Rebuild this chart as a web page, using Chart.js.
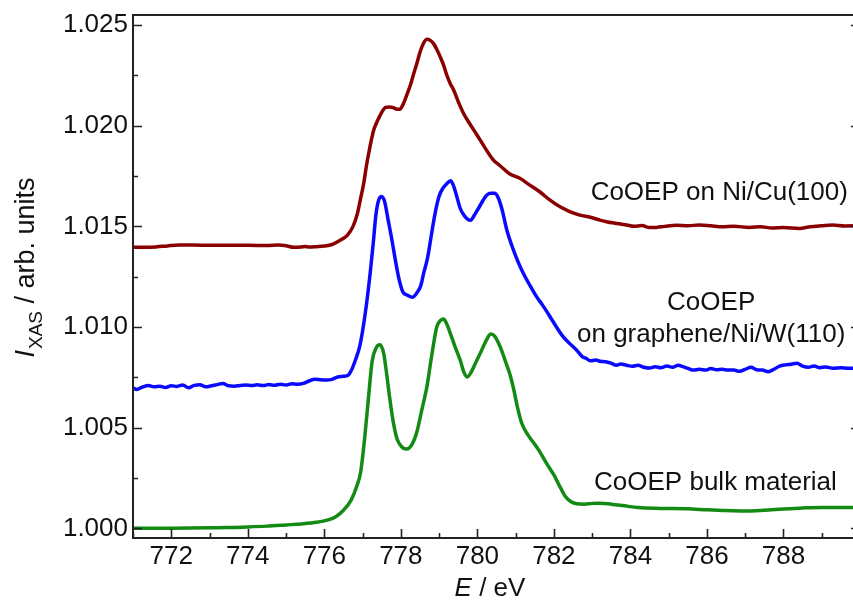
<!DOCTYPE html>
<html>
<head>
<meta charset="utf-8">
<script src="https://cdn.jsdelivr.net/npm/chart.js@4.4.1/dist/chart.umd.min.js"></script>
<style>
html,body{margin:0;padding:0;overflow:hidden;background:#fff;}
#wrap{position:relative;width:862px;height:600px;}
</style>
</head>
<body>
<div id="wrap"><canvas id="c"></canvas></div>
<script>
// ---- data ----
const bulkE = [771.0,771.5,772.0,772.5,773.0,773.5,774.0,774.5,775.0,775.4,775.8,776.1,776.3,776.5,776.7,776.85,776.95,777.05,777.15,777.25,777.35,777.45,777.55,777.62,777.7,777.8,777.9,778.0,778.15,778.3,778.42,778.55,778.68,778.8,778.94,779.05,779.12,779.2,779.3,779.42,779.55,779.65,779.73,779.82,779.95,780.1,780.25,780.35,780.45,780.6,780.75,780.85,780.95,781.05,781.16,781.3,781.45,781.6,781.8,782.0,782.15,782.3,782.45,782.6,782.8,783.0,783.2,783.5,783.8,784.2,784.8,785.5,786.0,786.5,787.0,787.5,788.0,788.5,789.0,789.5,790.0];
const bulkI = [1.00000,1.00000,1.00001,1.00002,1.00003,1.00004,1.00007,1.00011,1.00017,1.00022,1.00030,1.00042,1.00058,1.00090,1.00140,1.00210,1.00280,1.00440,1.00640,1.00830,1.00895,1.00912,1.00870,1.00780,1.00660,1.00530,1.00445,1.00410,1.00394,1.00420,1.00480,1.00590,1.00703,1.00850,1.01001,1.01035,1.01040,1.01015,1.00965,1.00900,1.00836,1.00775,1.00752,1.00770,1.00820,1.00880,1.00940,1.00965,1.00955,1.00900,1.00820,1.00765,1.00690,1.00600,1.00522,1.00470,1.00430,1.00390,1.00325,1.00265,1.00210,1.00158,1.00132,1.00122,1.00120,1.00124,1.00125,1.00120,1.00113,1.00103,1.00099,1.00097,1.00092,1.00088,1.00086,1.00090,1.00096,1.00101,1.00104,1.00104,1.00104];

const grapheneE = [771.0,771.1,771.25,771.4,771.55,771.7,771.85,772.0,772.15,772.3,772.45,772.6,772.75,772.9,773.05,773.2,773.35,773.5,773.65,773.8,773.95,774.1,774.25,774.4,774.55,774.7,774.85,775.0,775.15,775.3,775.45,775.6,775.75,775.9,776.05,776.2,776.35,776.5,776.62,776.72,776.82,776.92,777.0,777.1,777.2,777.28,777.35,777.42,777.5,777.58,777.66,777.75,777.85,777.95,778.05,778.15,778.3,778.42,778.52,778.6,778.7,778.8,778.9,779.0,779.1,779.2,779.3,779.38,779.46,779.55,779.65,779.75,779.82,779.92,780.03,780.15,780.25,780.35,780.45,780.55,780.65,780.77,780.9,781.05,781.2,781.35,781.55,781.7,781.9,782.05,782.24,782.4,782.59,782.75,782.85,782.95,783.1,783.2,783.35,783.5,783.63,783.75,783.9,784.05,784.2,784.35,784.5,784.65,784.8,784.95,785.1,785.25,785.37,785.5,785.65,785.8,785.98,786.1,786.25,786.4,786.55,786.7,786.85,787.0,787.15,787.3,787.45,787.6,787.75,787.9,788.05,788.2,788.35,788.5,788.65,788.8,788.95,789.1,789.3,789.5,789.7,790.0];
const grapheneI = [1.00698,1.00690,1.00702,1.00710,1.00703,1.00706,1.00700,1.00708,1.00705,1.00712,1.00698,1.00710,1.00713,1.00703,1.00708,1.00714,1.00720,1.00708,1.00706,1.00710,1.00712,1.00709,1.00713,1.00709,1.00714,1.00711,1.00716,1.00712,1.00718,1.00716,1.00720,1.00732,1.00740,1.00738,1.00737,1.00740,1.00752,1.00755,1.00760,1.00790,1.00840,1.00900,1.00980,1.01110,1.01270,1.01420,1.01560,1.01630,1.01648,1.01620,1.01540,1.01450,1.01340,1.01240,1.01175,1.01160,1.01148,1.01170,1.01205,1.01270,1.01345,1.01460,1.01570,1.01650,1.01690,1.01712,1.01727,1.01700,1.01650,1.01590,1.01555,1.01535,1.01530,1.01555,1.01590,1.01630,1.01656,1.01664,1.01664,1.01640,1.01580,1.01482,1.01405,1.01330,1.01267,1.01215,1.01150,1.01110,1.01051,1.01005,1.00952,1.00920,1.00886,1.00852,1.00844,1.00832,1.00836,1.00830,1.00828,1.00820,1.00810,1.00816,1.00810,1.00805,1.00810,1.00800,1.00796,1.00803,1.00798,1.00806,1.00800,1.00810,1.00803,1.00795,1.00786,1.00790,1.00786,1.00794,1.00788,1.00790,1.00786,1.00786,1.00780,1.00790,1.00800,1.00788,1.00786,1.00778,1.00790,1.00806,1.00812,1.00815,1.00820,1.00806,1.00800,1.00806,1.00798,1.00802,1.00795,1.00798,1.00795,1.00796];

const niCuE = [771.0,771.3,771.6,771.9,772.2,772.6,773.0,773.5,774.0,774.5,774.8,775.0,775.2,775.4,775.5,775.6,775.8,776.0,776.2,776.4,776.6,776.75,776.86,776.95,777.03,777.1,777.16,777.23,777.29,777.36,777.42,777.5,777.6,777.7,777.8,777.9,777.97,778.07,778.15,778.25,778.33,778.42,778.5,778.58,778.68,778.77,778.85,778.95,779.03,779.12,779.2,779.29,779.38,779.5,779.64,779.8,779.99,780.2,780.42,780.6,780.85,781.11,781.37,781.63,781.9,782.16,782.4,782.68,782.95,783.2,783.4,783.6,783.9,784.1,784.3,784.5,784.68,784.9,785.2,785.5,785.8,786.1,786.4,786.7,787.11,787.4,787.7,788.0,788.41,788.7,789.0,789.28,789.6,790.0];
const niCuI = [1.01396,1.01396,1.01398,1.01403,1.01407,1.01407,1.01406,1.01406,1.01406,1.01405,1.01407,1.01404,1.01396,1.01398,1.01400,1.01397,1.01399,1.01402,1.01410,1.01430,1.01455,1.01500,1.01560,1.01640,1.01714,1.01800,1.01863,1.01930,1.01978,1.02012,1.02037,1.02066,1.02091,1.02093,1.02090,1.02082,1.02082,1.02111,1.02150,1.02202,1.02255,1.02310,1.02365,1.02405,1.02429,1.02424,1.02409,1.02375,1.02342,1.02300,1.02252,1.02210,1.02177,1.02120,1.02061,1.02010,1.01954,1.01890,1.01829,1.01800,1.01760,1.01739,1.01705,1.01672,1.01630,1.01597,1.01575,1.01556,1.01545,1.01531,1.01522,1.01516,1.01507,1.01500,1.01504,1.01494,1.01495,1.01500,1.01505,1.01503,1.01507,1.01503,1.01498,1.01500,1.01495,1.01498,1.01492,1.01494,1.01490,1.01498,1.01503,1.01507,1.01502,1.01503];

const xTicks = [772,774,776,778,780,782,784,786,788];
const xMinorTicks = [771,773,775,777,779,781,783,785,787,789];
const yTicks = [1.000,1.005,1.010,1.015,1.020,1.025];
const yMinorTicks = [1.0025,1.0075,1.0125,1.0175,1.0225];

const seriesLabels = ['CoOEP on Ni/Cu(100)', 'CoOEP on graphene/Ni/W(110)', 'CoOEP bulk material'];
// ---------------------------------------

const FONT = "'Liberation Sans', Arial, Helvetica, sans-serif";
const pts = (xs, ys) => xs.map((x, i) => ({x: x, y: ys[i]}));

const decor = {
  id: 'decor',
  afterDraw(chart) {
    const ctx = chart.ctx;
    const {left, right, top, bottom} = chart.chartArea;
    const xs = chart.scales.x, ys = chart.scales.y;
    ctx.save();
    ctx.strokeStyle = '#222';
    ctx.lineWidth = 2;
    ctx.beginPath();
    ctx.rect(left, top, right - left, bottom - top);
    ctx.stroke();
    ctx.lineWidth = 1.6;
    ctx.beginPath();
    xTicks.forEach(v => { const p = Math.round(xs.getPixelForValue(v)) + 0.5; ctx.moveTo(p, bottom); ctx.lineTo(p, bottom - 9); });
    xMinorTicks.forEach(v => { const p = Math.round(xs.getPixelForValue(v)) + 0.5; ctx.moveTo(p, bottom); ctx.lineTo(p, bottom - 5); });
    yTicks.forEach(v => { const p = Math.round(ys.getPixelForValue(v)) + 0.5; ctx.moveTo(left, p); ctx.lineTo(left + 9, p); ctx.moveTo(right, p); ctx.lineTo(right - 9, p); });
    yMinorTicks.forEach(v => { const p = Math.round(ys.getPixelForValue(v)) + 0.5; ctx.moveTo(left, p); ctx.lineTo(left + 5, p); ctx.moveTo(right, p); ctx.lineTo(right - 5, p); });
    ctx.stroke();

    // series annotations
    ctx.fillStyle = '#111';
    ctx.font = '26px ' + FONT;
    ctx.textBaseline = 'alphabetic';
    ctx.textAlign = 'left';
    ctx.fillText(seriesLabels[0], xs.getPixelForValue(782.96), ys.getPixelForValue(1.01631));
    ctx.textAlign = 'center';
    const cx = xs.getPixelForValue(786.11);
    const parts = seriesLabels[1].split(' on ');
    ctx.fillText(parts[0], cx, ys.getPixelForValue(1.01086));
    ctx.fillText('on ' + parts[1], cx, ys.getPixelForValue(1.00927));
    ctx.textAlign = 'left';
    ctx.fillText(seriesLabels[2], xs.getPixelForValue(783.05), ys.getPixelForValue(1.00191));

    // x title: E / eV
    ctx.textAlign = 'left';
    ctx.font = 'italic 26px ' + FONT;
    const eW = ctx.measureText('E').width;
    ctx.font = '26px ' + FONT;
    const restW = ctx.measureText(' / eV').width;
    const tx = 490 - (eW + restW) / 2, ty = 596;
    ctx.font = 'italic 26px ' + FONT;
    ctx.fillText('E', tx, ty);
    ctx.font = '26px ' + FONT;
    ctx.fillText(' / eV', tx + eW, ty);

    // y title: I_XAS / arb. units (rotated)
    ctx.save();
    ctx.translate(34, 268);
    ctx.rotate(-Math.PI / 2);
    ctx.font = 'italic 27px ' + FONT;
    const iW = ctx.measureText('I').width;
    ctx.font = '19px ' + FONT;
    const sW = ctx.measureText('XAS').width;
    ctx.font = '27px ' + FONT;
    const rW = ctx.measureText(' / arb. units').width;
    let px = -(iW + sW + rW) / 2;
    ctx.font = 'italic 27px ' + FONT;
    ctx.fillText('I', px, 0); px += iW + 1;
    ctx.font = '19px ' + FONT;
    ctx.fillText('XAS', px, 8); px += sW;
    ctx.font = '27px ' + FONT;
    ctx.fillText(' / arb. units', px, 0);
    ctx.restore();
    ctx.restore();
  }
};

const ds = (label, data, color) => ({
  label, data, borderColor: color, backgroundColor: color, borderWidth: 3.5,
  pointRadius: 0, cubicInterpolationMode: 'monotone', fill: false
});

new Chart(document.getElementById('c'), {
  type: 'line',
  data: {
    datasets: [
      ds(seriesLabels[0], pts(niCuE, niCuI), '#8a0000'),
      ds(seriesLabels[1], pts(grapheneE, grapheneI), '#0a0aff'),
      ds(seriesLabels[2], pts(bulkE, bulkI), '#138a13')
    ]
  },
  options: {
    animation: false,
    responsive: true,
    maintainAspectRatio: false,
    layout: {padding: {top: 15, right: 2, left: 0, bottom: 0}},
    plugins: {legend: {display: false}, tooltip: {enabled: false}},
    scales: {
      x: {
        type: 'linear', min: 771, max: 790,
        afterBuildTicks: s => { s.ticks = xTicks.map(v => ({value: v})); },
        afterFit: s => { s.height = 62; s.paddingLeft = 0; s.paddingRight = 0; },
        grid: {display: false, drawTicks: false},
        border: {display: false},
        ticks: {font: {size: 26, family: FONT}, color: '#111', padding: 3, maxRotation: 0, autoSkip: false,
                callback: v => String(v)}
      },
      y: {
        type: 'linear', min: 0.99952, max: 1.0255,
        afterBuildTicks: s => { s.ticks = yTicks.map(v => ({value: v})); },
        afterFit: s => { s.width = 133; s.paddingTop = 0; s.paddingBottom = 0; },
        grid: {display: false, drawTicks: false},
        border: {display: false},
        ticks: {font: {size: 26, family: FONT}, color: '#111', padding: 5, autoSkip: false,
                callback: v => Number(v).toFixed(3)}
      }
    }
  },
  plugins: [decor]
});
</script>
</body>
</html>
